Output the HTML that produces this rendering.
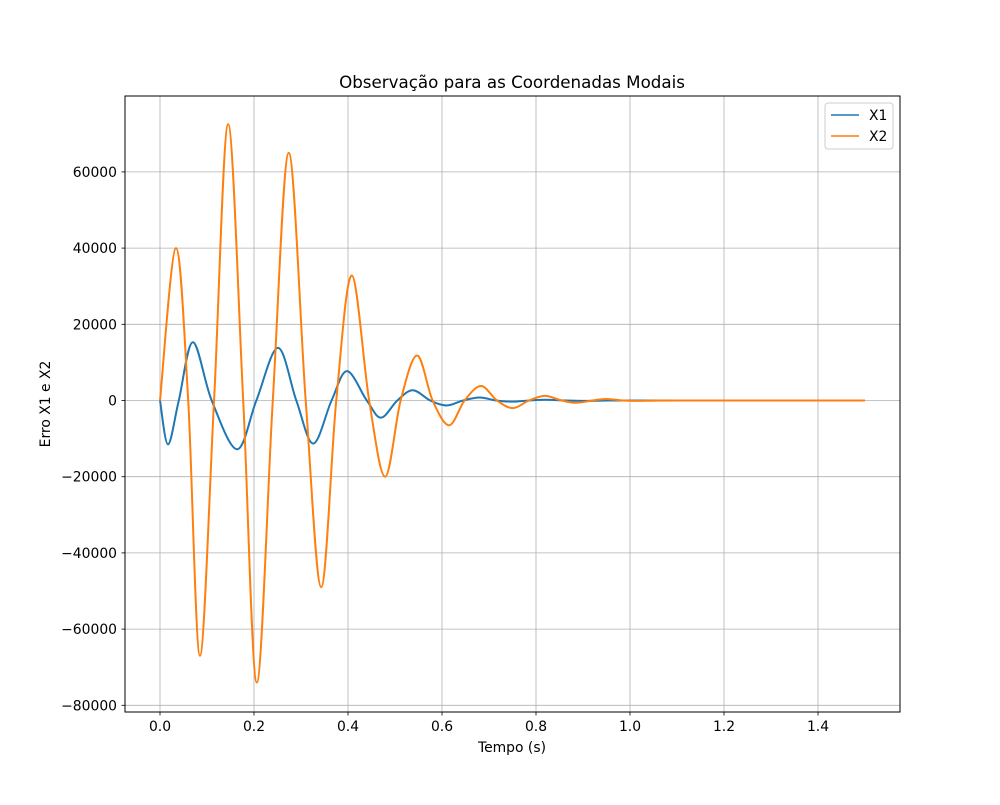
<!DOCTYPE html>
<html><head><meta charset="utf-8"><style>
body{margin:0;background:#fff;font-family:"Liberation Sans","DejaVu Sans",sans-serif;}
svg text{font-family:"DejaVu Sans","Liberation Sans",sans-serif;}
</style></head><body>
<svg id="chart" width="1000" height="800" xmlns="http://www.w3.org/2000/svg">
<rect width="1000" height="800" fill="#fff"/>
<g id="grid"></g>
<g id="series"></g>
<rect x="125" y="96" width="775" height="616" fill="none" stroke="#000" stroke-width="1"/>
<g id="ticks"></g>
<text x="512" y="88" text-anchor="middle" font-size="16.7">Observação para as Coordenadas Modais</text>
<text x="512" y="752" text-anchor="middle" font-size="13.9">Tempo (s)</text>
<text transform="translate(50,404) rotate(-90)" text-anchor="middle" font-size="13.9">Erro X1 e X2</text>
<g>
<rect x="825" y="103" width="68" height="46" rx="3" fill="#fff" stroke="#ccc"/>
<line x1="831" y1="115" x2="859" y2="115" stroke="#1f77b4" stroke-width="1.5"/>
<text x="869" y="120" font-size="13.9">X1</text>
<line x1="831" y1="136" x2="859" y2="136" stroke="#ff7f0e" stroke-width="1.5"/>
<text x="869" y="141" font-size="13.9">X2</text>
</g>
</svg>
<script>
const x1Times=[0,0.017,0.04,0.07,0.11,0.164,0.205,0.251,0.29,0.326,0.365,0.398,0.44,0.47,0.505,0.538,0.575,0.61,0.645,0.68,0.715,0.75,0.785,0.82,0.86,0.9,0.95,1.0,1.2,1.5];
const x1Values=[0,-11500,0,15300,0,-12800,0,13800,0,-11300,0,7700,0,-4500,0,2700,0,-1300,0,800,0,-300,0,200,0,-100,0,0,0,0];
const x2Times=[0,0.034,0.06,0.085,0.115,0.145,0.177,0.206,0.24,0.274,0.31,0.343,0.375,0.408,0.445,0.479,0.512,0.547,0.58,0.615,0.648,0.683,0.717,0.751,0.785,0.819,0.855,0.885,0.92,0.95,0.985,1.02,1.1,1.5];
const x2Values=[0,40000,0,-67000,0,72500,0,-74000,0,65000,0,-49000,0,32800,0,-20000,0,11800,0,-6500,0,3800,0,-2000,0,1200,0,-600,0,400,0,-100,0,0];
const xTicks=[0,0.2,0.4,0.6,0.8,1.0,1.2,1.4];
const xTickLabels=["0.0","0.2","0.4","0.6","0.8","1.0","1.2","1.4"];
const yTicks=[-80000,-60000,-40000,-20000,0,20000,40000,60000];
const yTickLabels=["\u221280000","\u221260000","\u221240000","\u221220000","0","20000","40000","60000"];

const NS="http://www.w3.org/2000/svg";
function sx(t){return 160+t*470;}
function sy(v){return 400.5-v*76.2/20000;}
function mk(tag,attrs,parent){const e=document.createElementNS(NS,tag);for(const k in attrs)e.setAttribute(k,attrs[k]);parent.appendChild(e);return e;}
const grid=document.getElementById('grid'),ticks=document.getElementById('ticks'),series=document.getElementById('series');
xTicks.forEach((t,i)=>{
  const X=sx(t);
  const g=mk('line',{x1:X,x2:X,y1:96,y2:712,stroke:'#b0b0b0','stroke-width':0.8},grid);
  
  
  const tk=mk('line',{x1:X,x2:X,y1:712,y2:715.5,stroke:'#000','stroke-width':0.8},ticks);
  
  
  const tx=mk('text',{x:X,y:731,'text-anchor':'middle','font-size':13.9},ticks);
  tx.textContent=xTickLabels[i];
  
  
});
yTicks.forEach((v,i)=>{
  const Y=sy(v);
  const g=mk('line',{x1:125,x2:900,y1:Y,y2:Y,stroke:'#b0b0b0','stroke-width':0.8},grid);
  
  
  const tk=mk('line',{x1:121.5,x2:125,y1:Y,y2:Y,stroke:'#000','stroke-width':0.8},ticks);
  
  
  const tx=mk('text',{x:117,y:Y+5,'text-anchor':'end','font-size':13.9},ticks);
  tx.textContent=yTickLabels[i];
  
  
});
function pathFrom(ts,vs){
  const p=ts.map((t,i)=>[sx(t),sy(vs[i])]);
  let d='M'+p[0][0]+','+p[0][1];
  for(let i=0;i<p.length-1;i++){
    const p0=p[Math.max(0,i-1)],p1=p[i],p2=p[i+1],p3=p[Math.min(p.length-1,i+2)];
    const c1=[p1[0]+(p2[0]-p0[0])/6,p1[1]+(p2[1]-p0[1])/6];
    const c2=[p2[0]-(p3[0]-p1[0])/6,p2[1]-(p3[1]-p1[1])/6];
    d+=' C'+c1[0]+','+c1[1]+' '+c2[0]+','+c2[1]+' '+p2[0]+','+p2[1];
  }
  return d;
}
const l1=mk('path',{d:pathFrom(x1Times,x1Values),fill:'none',stroke:'#1f77b4','stroke-width':2},series);


const l2=mk('path',{d:pathFrom(x2Times,x2Values),fill:'none',stroke:'#ff7f0e','stroke-width':2},series);


</script>
</body></html>
